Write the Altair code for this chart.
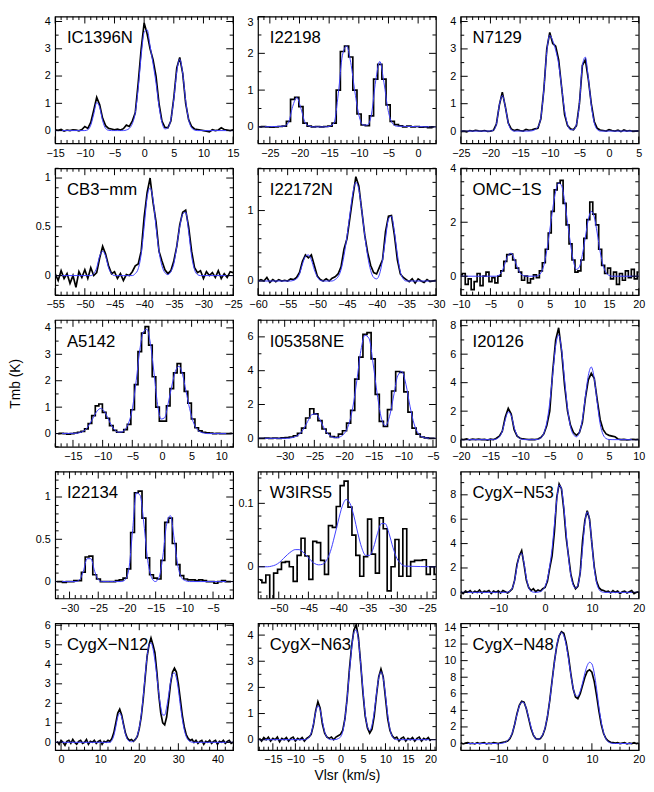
import altair as alt
import numpy as np
import pandas as pd

FONT = "Liberation Sans"
W, H = 181, 129

# ---------------- data (channel start velocity, channel width, values) ----------------
IC1396N_OBS_V0, IC1396N_OBS_DV = -15.0, 0.5
IC1396N_OBS = [0.03, 0.01, 0.04, -0.02, 0.02, 0.0, 0.03, 0.02, -0.01, 0.04,
               0.15, 0.08, 0.3, 0.75, 1.22, 0.95, 0.45, 0.18, 0.08, 0.06,
               0.03, 0.05, 0.02, 0.07, 0.2, 0.15, 0.35, 0.65, 1.75, 3.0,
               3.95, 3.55, 3.0, 2.6, 2.0, 1.0, 0.35, 0.12, 0.1, 0.35,
               1.2, 2.3, 2.68, 2.1, 1.0, 0.4, 0.15, 0.06, 0.04, 0.02,
               0.0, -0.02, -0.05, 0.03, 0.0, 0.02, 0.1, 0.04, 0.02, 0.0, 0.03]
IC1396N_FIT_V0 = -10.0
IC1396N_FIT = [0.0, 0.03, 0.2, 0.6, 1.03, 0.85, 0.36, 0.08, 0.01, 0.0,
               0.0, 0.0, 0.0, 0.0, 0.02, 0.08, 0.25, 0.65, 1.55, 2.75,
               3.6, 3.7, 3.1, 2.45, 1.75, 0.9, 0.3, 0.06, 0.1, 0.4,
               1.15, 2.15, 2.62, 2.1, 1.1, 0.4, 0.1, 0.02, 0.0]

I22198_OBS_V0, I22198_OBS_DV = -26.76, 0.7
I22198_OBS = [0.0, 0.01, 0.0, -0.01, 0.0, 0.01, 0.02, 0.15, 0.75, 0.8,
              0.55, 0.1, 0.02, 0.0, 0.01, 0.0, 0.01, 0.02, 0.1, 1.0,
              2.05, 2.2, 1.9, 1.0, 0.35, 0.05, 0.03, 0.3, 1.3, 1.7,
              1.3, 0.6, 0.15, 0.06, 0.03, 0.0, 0.02, 0.0, 0.01, -0.01,
              0.0, -0.02, 0.0]
I22198_FIT_V0 = -22.56
I22198_FIT = [0.02, 0.12, 0.55, 0.8, 0.5, 0.12, 0.02, 0.0, 0.0, 0.0,
              0.0, 0.02, 0.12, 0.9, 1.95, 2.2, 1.75, 0.95, 0.3, 0.05,
              0.05, 0.35, 1.25, 1.78, 1.2, 0.45, 0.1, 0.02]

N7129_OBS_V0, N7129_OBS_DV = -25.0, 0.5
N7129_OBS = [-0.02, 0.0, -0.03, 0.02, 0.0, 0.03, 0.01, 0.0, 0.02, -0.01,
             0.0, 0.03, 0.25, 0.95, 1.42, 0.9, 0.3, 0.08, 0.02, 0.05,
             0.02, 0.0, 0.06, 0.03, 0.05, 0.08, 0.1, 0.45, 1.5, 3.0,
             3.6, 3.2, 3.1, 2.6, 1.6, 0.6, 0.2, 0.08, 0.05, 0.2,
             1.0, 2.4, 2.6, 1.9, 1.0, 0.35, 0.1, 0.04, 0.02, 0.0,
             0.05, 0.02, 0.0, 0.03, -0.02, 0.04, 0.0, 0.02, -0.01, 0.0, 0.01]
N7129_FIT_V0 = -20.0
N7129_FIT = [0.0, 0.03, 0.25, 0.95, 1.3, 0.9, 0.3, 0.05, 0.0, 0.0,
             0.0, 0.0, 0.0, 0.0, 0.01, 0.05, 0.15, 0.5, 1.5, 2.9,
             3.5, 3.3, 2.95, 2.45, 1.6, 0.75, 0.25, 0.05, 0.05, 0.25,
             1.0, 2.4, 2.7, 1.95, 0.95, 0.3, 0.06, 0.0]

CB3_OBS_V0, CB3_OBS_DV = -55.0, 0.5
CB3_OBS = [0.02, -0.05, 0.05, -0.03, 0.02, -0.08, 0.0, -0.12, 0.04, -0.02,
           0.06, -0.03, 0.08, 0.0, 0.03, 0.18, 0.3, 0.22, 0.1, 0.02,
           0.04, -0.03, 0.02, -0.05, 0.01, 0.0, 0.04, 0.1, 0.12, 0.25,
           0.6, 0.85, 1.0, 0.75, 0.55, 0.25, 0.15, 0.06, 0.02, 0.05,
           0.15, 0.3, 0.52, 0.65, 0.67, 0.5, 0.25, 0.08, 0.03, 0.05,
           -0.03, 0.04, 0.0, 0.03, -0.02, 0.05, -0.03, 0.02, -0.02, 0.04, 0.03]
CB3_FIT_V0 = -49.0
CB3_FIT = [0.0, 0.02, 0.08, 0.2, 0.25, 0.2, 0.08, 0.02, 0.0, 0.0,
           0.0, 0.0, 0.0, 0.0, 0.0, 0.02, 0.07, 0.22, 0.5, 0.8,
           0.9, 0.78, 0.5, 0.25, 0.1, 0.03, 0.01, 0.04, 0.12, 0.3,
           0.5, 0.63, 0.65, 0.45, 0.2, 0.06, 0.01, 0.0]

I22172N_OBS_V0, I22172N_OBS_DV = -60.0, 0.5
I22172N_OBS = [0.0, 0.02, 0.0, 0.05, -0.02, 0.02, -0.01, 0.02, 0.0, 0.01,
               0.0, 0.03, 0.02, 0.05, 0.12, 0.28, 0.37, 0.33, 0.37, 0.22,
               0.07, 0.02, 0.0, 0.03, 0.0, 0.04, 0.06, 0.1, 0.2, 0.45,
               0.6, 0.9, 1.2, 1.48, 1.35, 1.0, 0.65, 0.4, 0.22, 0.12,
               0.1, 0.2, 0.3, 0.7, 0.92, 0.93, 0.65, 0.3, 0.1, 0.05,
               0.02, -0.01, 0.03, -0.03, 0.03, 0.0, -0.02, 0.02, -0.01, 0.0, 0.01]
I22172N_FIT_V0 = -54.5
I22172N_FIT = [0.0, 0.01, 0.03, 0.1, 0.24, 0.35, 0.37, 0.3, 0.16, 0.06,
               0.01, 0.0, 0.0, 0.0, 0.0, 0.02, 0.06, 0.16, 0.36, 0.63,
               0.95, 1.25, 1.4, 1.3, 1.0, 0.65, 0.35, 0.15, 0.05, 0.03,
               0.1, 0.3, 0.6, 0.88, 0.92, 0.7, 0.38, 0.13, 0.03, 0.0]

OMC1S_OBS_V0, OMC1S_OBS_DV = -10.0, 0.5
OMC1S_OBS = [0.05, 0.1, -0.3, -0.1, -0.5, -0.2, 0.1, -0.35, 0.0, 0.15,
             -0.2, -0.05, -0.25, 0.0, 0.2, 0.55, 0.8, 0.82, 0.6, 0.3,
             0.15, -0.15, 0.0, -0.25, -0.1, 0.05, -0.05, 0.2, 0.5, 1.0,
             1.6, 2.4, 3.2, 3.45, 3.55, 2.7, 1.9, 1.2, 0.6, 0.15,
             0.2, 0.6, 1.4, 2.1, 2.75, 2.3, 1.9, 1.0, 0.4, 0.1,
             0.3, -0.1, 0.15, -0.3, 0.1, -0.15, 0.2, -0.05, 0.25, -0.1, 0.15]
OMC1S_FIT_V0 = -4.0
OMC1S_FIT = [0.0, 0.05, 0.2, 0.5, 0.78, 0.85, 0.65, 0.35, 0.12, 0.03,
             0.0, 0.0, 0.0, 0.0, 0.02, 0.12, 0.4, 0.95, 1.7, 2.5,
             3.15, 3.45, 3.35, 2.8, 2.0, 1.2, 0.55, 0.25, 0.35, 0.8,
             1.45, 2.1, 2.4, 2.2, 1.6, 0.9, 0.4, 0.13, 0.03, 0.0]

A5142_OBS_V0, A5142_OBS_DV = -17.54, 0.6
A5142_OBS = [0.0, 0.01, 0.0, -0.02, 0.0, 0.02, 0.05, 0.08, 0.18, 0.38,
             0.68, 1.05, 1.12, 0.8, 0.58, 0.3, 0.12, 0.05, 0.05, 0.15,
             0.35, 0.9, 1.85, 3.1, 3.8, 4.05, 3.35, 2.15, 1.0, 0.47,
             0.47, 1.05, 1.7, 2.3, 2.65, 2.3, 1.6, 1.15, 0.55, 0.22,
             0.1, 0.05, 0.03, 0.02, 0.0, 0.01, 0.0, 0.0, 0.0, 0.01]
A5142_FIT_V0 = -14.54
A5142_FIT = [0.01, 0.03, 0.08, 0.18, 0.38, 0.62, 0.85, 0.95, 0.85, 0.6,
             0.32, 0.13, 0.05, 0.06, 0.18, 0.45, 1.0, 2.0, 3.15, 3.85,
             3.95, 3.4, 2.3, 1.1, 0.55, 0.6, 1.15, 1.8, 2.35, 2.55,
             2.25, 1.6, 0.95, 0.45, 0.18, 0.06, 0.02, 0.0, 0.0]

I05358NE_OBS_V0, I05358NE_OBS_DV = -34.4, 0.69
I05358NE_OBS = [0.0, 0.0, 0.01, 0.0, 0.02, 0.0, 0.03, 0.05, 0.08, 0.15,
                0.3, 0.6, 1.2, 1.75, 1.45, 1.05, 0.55, 0.3, 0.1, 0.06,
                0.25, 0.45, 0.9, 1.65, 3.5, 4.8, 6.15, 6.25, 4.7, 2.6,
                1.0, 0.7, 1.7, 2.8, 3.95, 3.9, 2.75, 1.55, 0.6, 0.25,
                0.08, 0.03, 0.0, 0.0]
I05358NE_FIT_V0 = -29.57
I05358NE_FIT = [0.0, 0.03, 0.1, 0.25, 0.55, 1.0, 1.4, 1.45, 1.1, 0.6,
                0.25, 0.08, 0.04, 0.1, 0.3, 0.8, 1.8, 3.4, 5.2, 6.1,
                5.9, 4.4, 2.6, 1.2, 0.75, 1.3, 2.5, 3.7, 3.95, 3.2,
                1.9, 0.85, 0.3, 0.08, 0.02, 0.0]

I20126_OBS_V0, I20126_OBS_DV = -20.0, 0.5
I20126_OBS = [0.02, 0.0, 0.05, -0.02, 0.03, 0.0, 0.04, 0.0, 0.02, -0.03,
              0.03, 0.0, 0.1, 0.25, 0.6, 1.6, 2.2, 1.8, 0.7, 0.25,
              0.1, 0.05, 0.03, 0.0, 0.02, 0.0, 0.05, 0.15, 0.4, 1.0,
              2.0, 4.8, 7.0, 7.85, 6.2, 3.8, 2.0, 1.0, 0.5, 0.3,
              0.5, 1.2, 2.9, 4.2, 4.65, 4.3, 2.8, 1.4, 0.7, 0.4,
              0.3, 0.25, 0.2, 0.05, 0.0, 0.02, -0.02, 0.0, 0.03, 0.0, 0.02]
I20126_FIT_V0 = -14.5
I20126_FIT = [0.0, 0.05, 0.2, 0.6, 1.4, 1.95, 1.7, 0.85, 0.3, 0.07,
              0.01, 0.0, 0.0, 0.0, 0.0, 0.02, 0.12, 0.45, 1.2, 2.6,
              4.6, 6.6, 7.35, 6.3, 4.2, 2.2, 0.9, 0.35, 0.2, 0.5,
              1.4, 3.0, 4.5, 5.1, 4.3, 2.6, 1.1, 0.35, 0.08, 0.01, 0.0]

I22134_OBS_V0, I22134_OBS_DV = -32.22, 0.66
I22134_OBS = [0.0, 0.0, -0.01, 0.0, 0.0, 0.01,
              0.01, 0.11, 0.29, 0.3, 0.08, 0.03, 0.0, 0.0, 0.0, 0.0,
              0.01, 0.02, 0.04, 0.15, 0.58, 1.05, 1.07, 0.75, 0.28, 0.08,
              0.04, 0.03, 0.25, 0.7, 0.75, 0.45, 0.2, 0.07, 0.03, 0.02,
              0.02, 0.01, 0.02, 0.01, 0.0, 0.0, -0.02, 0.0, 0.01, 0.0, 0.0]
I22134_FIT_V0 = -28.92
I22134_FIT = [0.0, 0.02, 0.12, 0.27, 0.27, 0.12, 0.02, 0.0, 0.0, 0.0,
              0.0, 0.0, 0.0, 0.02, 0.14, 0.6, 1.05, 1.02, 0.68, 0.25,
              0.05, 0.0, 0.05, 0.3, 0.68, 0.78, 0.5, 0.18, 0.04, 0.01, 0.0]

W3IRS5_OBS_V0, W3IRS5_OBS_DV = -53.17, 0.66
W3IRS5_OBS = [-0.021, -0.025, -0.013, -0.07, -0.01, -0.004, 0.007, 0.008, 0.0, -0.023,
              0.018, 0.045, 0.017, -0.02, 0.04, 0.038, 0.01, -0.012, 0.065, 0.062,
              0.095, 0.128, 0.135, 0.094, 0.05, 0.018, -0.015, 0.016, 0.075, 0.02,
              -0.01, 0.077, 0.06, -0.038, 0.0, 0.043, -0.015, 0.06, -0.015, 0.008,
              0.01, 0.01, 0.011, -0.012, 0.0, -0.012]
W3IRS5_FIT_V0 = -53.17
W3IRS5_FIT = [0.0, 0.0, 0.0, 0.001, 0.003, 0.007, 0.013, 0.019, 0.024, 0.027,
              0.027, 0.023, 0.017, 0.01, 0.005, 0.003, 0.004, 0.01, 0.024, 0.047,
              0.072, 0.095, 0.106, 0.1, 0.08, 0.053, 0.03, 0.018, 0.018, 0.03,
              0.052, 0.068, 0.068, 0.052, 0.03, 0.013, 0.005, 0.001]

N53_OBS_V0, N53_OBS_DV = -18.0, 0.5
N53_OBS = [0.05, -0.1, 0.1, 0.0, 0.15, -0.05, 0.1, 0.0, 0.2, -0.05,
           0.1, 0.05, 0.15, -0.1, 0.1, 0.0, 0.12, -0.05, 0.15, 0.05,
           -0.05, 0.1, 0.3, 1.0, 2.3, 3.0, 3.42, 2.3, 1.0, 0.4,
           0.15, 0.3, 0.05, 0.2, 0.1, 0.3, 0.4, 0.9, 2.0, 3.0,
           5.0, 7.8, 8.9, 8.5, 6.8, 4.5, 3.0, 1.5, 0.7, 0.3,
           0.5, 1.6, 4.2, 5.9, 6.7, 6.0, 4.0, 2.1, 0.9, 0.4,
           0.2, 0.15, 0.05, 0.1, -0.05, 0.15, 0.0, 0.1, -0.1, 0.05,
           0.1, -0.05, 0.05, 0.15, -0.1, 0.0, 0.05]
N53_FIT_V0 = -8.5
N53_FIT = [0.0, 0.02, 0.1, 0.35, 1.0, 2.1, 3.0, 3.2, 2.4, 1.2,
           0.4, 0.1, 0.02, 0.0, 0.02, 0.07, 0.2, 0.5, 1.1, 2.2,
           3.6, 5.6, 7.6, 8.8, 8.5, 7.0, 4.9, 2.9, 1.4, 0.6,
           0.35, 0.6, 1.6, 3.6, 5.7, 6.6, 5.9, 4.0, 2.0, 0.8,
           0.25, 0.06, 0.01, 0.0]

N12_OBS_V0, N12_OBS_DV = -1.0, 0.5
N12_OBS = [0.05, -0.1, 0.1, 0.0, -0.15, 0.05, 0.1, -0.05, 0.15, 0.0,
           -0.1, 0.05, 0.1, -0.05, 0.0, 0.15, -0.1, 0.05, 0.0, 0.1,
           -0.05, 0.05, 0.1, -0.1, 0.05, 0.0, 0.1, 0.05, 0.2, 0.5,
           1.0, 1.5, 1.7, 1.4, 0.9, 0.45, 0.2, 0.1, 0.15, 0.05,
           0.15, 0.3, 0.7, 1.3, 2.2, 3.3, 4.4, 5.0, 5.35, 5.0,
           4.6, 3.6, 2.4, 1.5, 1.0, 0.9, 1.3, 2.1, 3.0, 3.6,
           3.8, 3.6, 3.0, 2.2, 1.4, 0.8, 0.4, 0.2, 0.1, 0.15,
           0.0, 0.1, -0.05, 0.05, 0.1, -0.1, 0.05, 0.0, 0.1, -0.05,
           0.05, 0.1, -0.1, 0.05, 0.0, 0.1, -0.05, 0.05, 0.1, -0.05, 0.0]
N12_FIT_V0 = 12.5
N12_FIT = [0.0, 0.1, 0.35, 0.8, 1.3, 1.5, 1.3, 0.85, 0.4, 0.15,
           0.05, 0.03, 0.06, 0.15, 0.35, 0.75, 1.4, 2.3, 3.4, 4.4,
           5.0, 5.1, 4.8, 4.2, 3.4, 2.5, 1.8, 1.4, 1.4, 1.8,
           2.4, 3.1, 3.5, 3.55, 3.3, 2.7, 1.9, 1.2, 0.65, 0.3,
           0.12, 0.04, 0.01, 0.0]

N63_OBS_V0, N63_OBS_DV = -18.0, 0.5
N63_OBS = [0.05, -0.05, 0.08, 0.0, 0.1, -0.05, 0.05, 0.0, 0.1, -0.08,
           0.05, 0.0, 0.08, -0.05, 0.05, 0.1, -0.05, 0.05, 0.0, 0.08,
           -0.05, 0.05, 0.1, 0.2, 0.55, 1.1, 1.45, 1.2, 0.6, 0.25,
           0.1, 0.05, 0.1, 0.0, 0.1, 0.15, 0.2, 0.35, 0.8, 1.6,
           2.7, 3.6, 4.2, 4.4, 3.9, 2.9, 1.8, 0.9, 0.45, 0.25,
           0.4, 0.9, 1.7, 2.4, 2.7, 2.4, 1.6, 0.8, 0.35, 0.15,
           0.05, 0.1, -0.05, 0.05, 0.1, -0.05, 0.05, 0.0, 0.08, -0.05,
           0.05, 0.1, -0.05, 0.05, 0.0, 0.08, -0.05]
N63_FIT_V0 = -8.0
N63_FIT = [0.0, 0.02, 0.08, 0.25, 0.6, 1.05, 1.3, 1.15, 0.7, 0.3,
           0.1, 0.02, 0.0, 0.0, 0.01, 0.04, 0.1, 0.3, 0.8, 1.6,
           2.6, 3.5, 4.1, 4.2, 3.8, 2.9, 1.9, 1.0, 0.5, 0.35,
           0.55, 1.05, 1.75, 2.35, 2.6, 2.35, 1.7, 0.95, 0.4, 0.13,
           0.03, 0.0]

N48_OBS_V0, N48_OBS_DV = -18.0, 0.5
N48_OBS = [0.1, -0.05, 0.05, 0.1, 0.0, 0.05, -0.05, 0.1, 0.0, 0.05,
           0.1, -0.05, 0.05, 0.0, 0.1, 0.05, 0.0, 0.1, 0.15, 0.2,
           0.3, 0.6, 1.2, 2.3, 3.6, 4.6, 5.1, 5.0, 4.2, 3.0,
           1.8, 1.0, 0.6, 0.5, 0.6, 1.0, 1.8, 3.2, 5.2, 7.6,
           9.9, 11.8, 13.0, 13.5, 13.3, 12.2, 10.5, 8.4, 6.6, 5.6,
           5.4, 6.0, 7.0, 8.0, 8.7, 8.9, 8.6, 7.5, 5.8, 3.9,
           2.3, 1.2, 0.6, 0.3, 0.15, 0.1, 0.05, 0.1, 0.0, 0.05,
           0.1, -0.05, 0.05, 0.0, 0.1, 0.0, 0.05]
N48_FIT_V0 = -9.5
N48_FIT = [0.0, 0.05, 0.15, 0.35, 0.7, 1.3, 2.3, 3.5, 4.5, 5.0,
           4.9, 4.2, 3.1, 2.0, 1.1, 0.6, 0.5, 0.65, 1.1, 1.9,
           3.3, 5.2, 7.5, 9.8, 11.8, 13.0, 13.4, 13.0, 11.9, 10.2,
           8.3, 6.7, 5.8, 5.7, 6.3, 7.3, 8.5, 9.4, 9.8, 9.6,
           8.5, 6.6, 4.4, 2.6, 1.3, 0.55, 0.2, 0.06, 0.01, 0.0]

# ---------------- panel settings (axis ranges and tick spacing) ----------------
PANELS = [
    dict(name="IC1396N", obs=(IC1396N_OBS_V0, IC1396N_OBS_DV, IC1396N_OBS), fit=(IC1396N_FIT_V0, IC1396N_FIT), step=False,
         xdom=[-15, 15], xt=(5, 1), ydom=[-0.47, 4.18], yt=(1, 0.5)),
    dict(name="I22198", obs=(I22198_OBS_V0, I22198_OBS_DV, I22198_OBS), fit=(I22198_FIT_V0, I22198_FIT), step=True,
         xdom=[-27, 3], xt=(5, 1), ydom=[-0.45, 3.0], yt=(1, 0.5), yflush=True),
    dict(name="N7129", obs=(N7129_OBS_V0, N7129_OBS_DV, N7129_OBS), fit=(N7129_FIT_V0, N7129_FIT), step=False,
         xdom=[-25, 5], xt=(5, 1), ydom=[-0.45, 4.18], yt=(1, 0.5)),
    dict(name="CB3−mm", obs=(CB3_OBS_V0, CB3_OBS_DV, CB3_OBS), fit=(CB3_FIT_V0, CB3_FIT), step=False,
         xdom=[-55, -25], xt=(5, 1), ydom=[-0.2, 1.1], yt=(0.5, 0.1)),
    dict(name="I22172N", obs=(I22172N_OBS_V0, I22172N_OBS_DV, I22172N_OBS), fit=(I22172N_FIT_V0, I22172N_FIT), step=False,
         xdom=[-60, -30], xt=(5, 1), ydom=[-0.2, 1.6], yt=(1, 0.2)),
    dict(name="OMC−1S", obs=(OMC1S_OBS_V0, OMC1S_OBS_DV, OMC1S_OBS), fit=(OMC1S_FIT_V0, OMC1S_FIT), step=True,
         xdom=[-10, 20], xt=(5, 1), ydom=[-0.7, 4.0], yt=(2, 0.5)),
    dict(name="A5142", obs=(A5142_OBS_V0, A5142_OBS_DV, A5142_OBS), fit=(A5142_FIT_V0, A5142_FIT), step=True,
         xdom=[-18, 12], xt=(5, 1), ydom=[-0.5, 4.3], yt=(1, 0.5), ytitle="Tmb (K)"),
    dict(name="I05358NE", obs=(I05358NE_OBS_V0, I05358NE_OBS_DV, I05358NE_OBS), fit=(I05358NE_FIT_V0, I05358NE_FIT), step=True,
         xdom=[-34.5, -4.5], xt=(5, 1), ydom=[-0.5, 7.0], yt=(2, 1)),
    dict(name="I20126", obs=(I20126_OBS_V0, I20126_OBS_DV, I20126_OBS), fit=(I20126_FIT_V0, I20126_FIT), step=False,
         xdom=[-20, 10], xt=(5, 1), ydom=[-0.5, 8.4], yt=(2, 1)),
    dict(name="I22134", obs=(I22134_OBS_V0, I22134_OBS_DV, I22134_OBS), fit=(I22134_FIT_V0, I22134_FIT), step=True,
         xdom=[-32.5, -1.5], xt=(5, 1), ydom=[-0.2, 1.3], yt=(0.5, 0.1)),
    dict(name="W3IRS5", obs=(W3IRS5_OBS_V0, W3IRS5_OBS_DV, W3IRS5_OBS), fit=(W3IRS5_FIT_V0, W3IRS5_FIT), step=True,
         xdom=[-53.5, -23.5], xt=(5, 1), ydom=[-0.05, 0.15], yt=(0.1, 0.02)),
    dict(name="CygX−N53", obs=(N53_OBS_V0, N53_OBS_DV, N53_OBS), fit=(N53_FIT_V0, N53_FIT), step=False,
         xdom=[-18, 20], xt=(10, 2), ydom=[-0.5, 9.9], yt=(2, 1)),
    dict(name="CygX−N12", obs=(N12_OBS_V0, N12_OBS_DV, N12_OBS), fit=(N12_FIT_V0, N12_FIT), step=False,
         xdom=[-1.5, 44], xt=(10, 2), ydom=[-0.4, 6.1], yt=(1, 0.5)),
    dict(name="CygX−N63", obs=(N63_OBS_V0, N63_OBS_DV, N63_OBS), fit=(N63_FIT_V0, N63_FIT), step=False,
         xdom=[-18.3, 21.2], xt=(5, 1), ydom=[-0.4, 4.45], yt=(1, 0.5), xtitle="Vlsr (km/s)"),
    dict(name="CygX−N48", obs=(N48_OBS_V0, N48_OBS_DV, N48_OBS), fit=(N48_FIT_V0, N48_FIT), step=False,
         xdom=[-18, 20], xt=(10, 2), ydom=[-0.8, 14.5], yt=(2, 1)),
]

LABEL_EXPR = "format(datum.value, '.6~g')"
MAJOR_LEN, MINOR_LEN = 7, 3.5


def ticks_frame(lo, hi, major, minor):
    start = np.ceil(lo / minor - 1e-9) * minor
    vals = np.round(np.arange(start, hi + 1e-9, minor), 6)
    is_major = np.abs(vals / major - np.round(vals / major)) < 1e-6
    return pd.DataFrame({"tv": vals, "major": is_major})


def make_panel(p):
    xs = alt.Scale(domain=p["xdom"], nice=False, zero=False)
    ys = alt.Scale(domain=p["ydom"], nice=False, zero=False)
    xt = ticks_frame(p["xdom"][0], p["xdom"][1], *p["xt"])
    yt = ticks_frame(p["ydom"][0], p["ydom"][1], *p["yt"])
    xlab = [float(v) for v in xt.loc[xt["major"], "tv"]]
    ylab = [float(v) for v in yt.loc[yt["major"], "tv"]]

    v0, dv, vals = p["obs"]
    obs_df = pd.DataFrame({"v": np.round(v0 + dv * np.arange(len(vals)), 3), "t": vals})
    f0, fvals = p["fit"]
    fv = [float(x) for x in np.round(f0 + dv * np.arange(len(fvals)), 3)]
    ft = list(fvals)
    if fv[0] > p["xdom"][0]:
        fv = [p["xdom"][0]] + fv
        ft = [0.0] + ft
    if fv[-1] < p["xdom"][1]:
        fv = fv + [p["xdom"][1]]
        ft = ft + [0.0]
    fit_df = pd.DataFrame({"v": fv, "t": ft})

    xaxis = dict(values=xlab, labelExpr=LABEL_EXPR, tickCount=100, labelFlush=False, labelOverlap=False,
                 ticks=False, domain=False, grid=False, labelPadding=4)
    if p.get("xtitle"):
        xaxis.update(title=p["xtitle"], titlePadding=4)
    else:
        xaxis["title"] = None
    yaxis = dict(values=ylab, labelExpr=LABEL_EXPR, tickCount=100,
                 labelFlush=bool(p.get("yflush", False)), labelOverlap=False,
                 ticks=False, domain=False, grid=False, labelPadding=5)
    if p.get("ytitle"):
        yaxis.update(title=p["ytitle"], titleX=-40, titleY=H / 2, titleAngle=270,
                     titleAlign="center", titleBaseline="middle")
    else:
        yaxis["title"] = None

    obs = alt.Chart(obs_df).mark_line(
        interpolate="step" if p["step"] else "linear", color="black", strokeWidth=1.7, clip=True
    ).encode(x=alt.X("v:Q", scale=xs, axis=alt.Axis(**xaxis)),
             y=alt.Y("t:Q", scale=ys, axis=alt.Axis(**yaxis)))
    fit = alt.Chart(fit_df).mark_line(
        interpolate="monotone", color="#3c3cff", strokeWidth=1, clip=True
    ).encode(x=alt.X("v:Q", scale=xs), y=alt.Y("t:Q", scale=ys))

    layers = [obs, fit]
    for is_major, ln in ((True, MAJOR_LEN), (False, MINOR_LEN)):
        xsub = xt[xt["major"] == is_major]
        ysub = yt[yt["major"] == is_major]
        for edge, inner in ((H, H - ln), (0, ln)):
            layers.append(alt.Chart(xsub).mark_rule(color="black", strokeWidth=1).encode(
                x=alt.X("tv:Q", scale=xs), y=alt.value(edge), y2=alt.value(inner)))
        for edge, inner in ((0, ln), (W, W - ln)):
            layers.append(alt.Chart(ysub).mark_rule(color="black", strokeWidth=1).encode(
                y=alt.Y("tv:Q", scale=ys), x=alt.value(edge), x2=alt.value(inner)))

    label = alt.Chart(pd.DataFrame({"name": [p["name"]]})).mark_text(
        align="left", baseline="middle", fontSize=17, font=FONT, color="black"
    ).encode(x=alt.value(12), y=alt.value(22), text="name:N")
    layers.append(label)

    return alt.layer(*layers).properties(width=W, height=H)


chart = alt.concat(*[make_panel(p) for p in PANELS], columns=3, spacing=25.3, bounds="flush").properties(
    padding={"left": 0, "top": 0, "right": 0, "bottom": 0}
).configure_view(stroke="black", strokeWidth=1.2).configure_axis(
    labelFont=FONT, labelFontSize=11, labelColor="black",
    titleFont=FONT, titleFontSize=14, titleFontWeight="normal", titleColor="black"
)

chart.save("out.html", embed_options={"renderer": "svg", "actions": False})
